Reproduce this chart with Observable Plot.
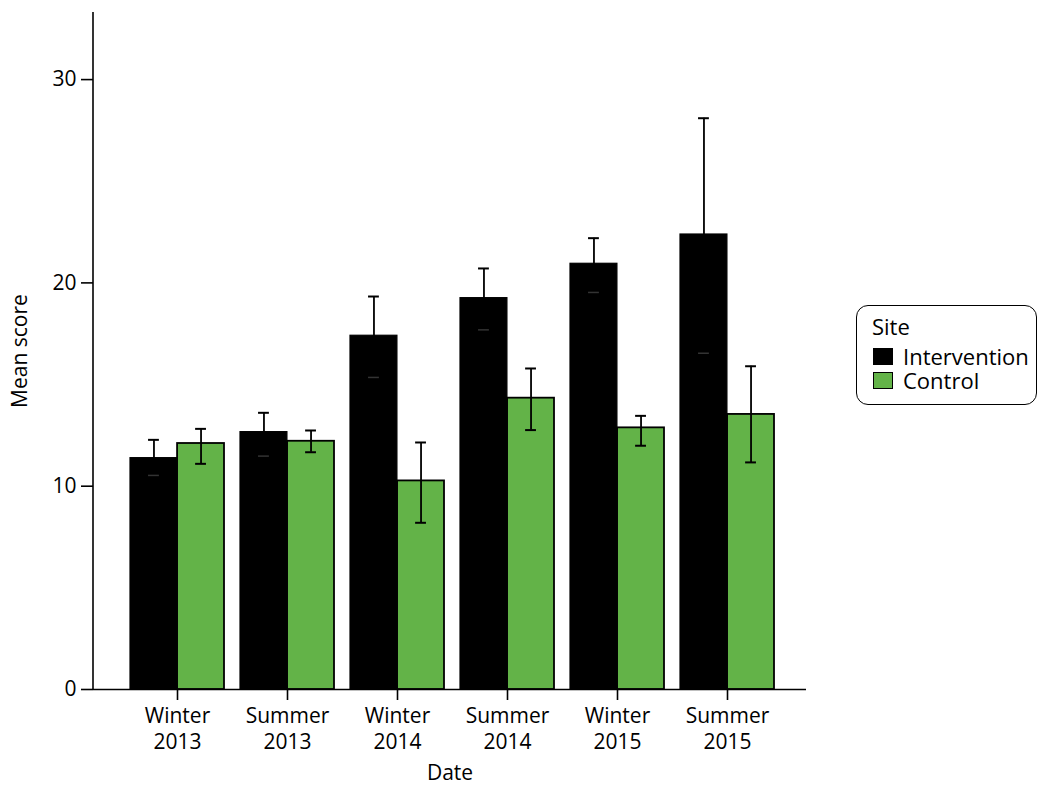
<!DOCTYPE html>
<html><head><meta charset="utf-8">
<script src="https://cdn.jsdelivr.net/npm/d3@7"></script>
<script src="https://cdn.jsdelivr.net/npm/@observablehq/plot@0.6"></script>
<style>
body{margin:0;background:#fff;font-family:"Open Sans",sans-serif;color:#000;}
#wrap{position:relative;width:1038px;height:787px;overflow:hidden;}
#legend{position:absolute;left:856px;top:305px;width:181px;height:100px;border:1.5px solid #000;border-radius:12px;box-sizing:border-box;font-size:22px;}
#legend .title{position:absolute;left:15px;top:9px;height:22px;line-height:22px;display:block;}
#legend .row{position:absolute;left:16px;height:22px;display:flex;align-items:center;white-space:nowrap;}
#legend .sw{width:20px;height:17px;border:1.5px solid #000;box-sizing:border-box;margin-right:10px;flex:none;}
#legend .lbl{display:block;height:22px;line-height:22px;}
</style></head><body>
<div id="wrap"><div id="chart"></div><div id="legend"></div></div>
<script>
const dates = ["Winter 2013","Summer 2013","Winter 2014","Summer 2014","Winter 2015","Summer 2015"];
const sites = ["Intervention","Control"];
const siteColors = ["#000000","#63b348"];
const interventionMean = [11.38,12.66,17.40,19.25,20.94,22.38];
const interventionLow  = [10.53,11.48,15.35,17.69,19.53,16.54];
const interventionHigh = [12.28,13.61,19.33,20.71,22.20,28.10];
const controlMean = [12.10,12.21,10.26,14.33,12.87,13.53];
const controlLow  = [11.10,11.67,8.20,12.76,11.99,11.17];
const controlHigh = [12.82,12.74,12.15,15.79,13.46,15.90];
const yTicks = [0,10,20,30];
const xTitle = "Date";
const yTitle = "Mean score";
const legendTitle = "Site";

const rowsInt = dates.map((d,i)=>({date:d, site:sites[0], mean:interventionMean[i], low:interventionLow[i], high:interventionHigh[i]}));
const rowsCtl = dates.map((d,i)=>({date:d, site:sites[1], mean:controlMean[i], low:controlLow[i], high:controlHigh[i]}));

const W = 1038, H = 787;
const mL = 93, mR = 232, mT = 12, mB = 98;
const xRange = [128, 776];
const padIn = 0.15;
const bw = (xRange[1]-xRange[0])/(dates.length - padIn)*(1-padIn);
const half = bw/2;
const capW = 11;
const cI = half/2, cC = half + half/2;

const yAxisLine = (index, scales, values, dims) => {
  const ns = "http://www.w3.org/2000/svg";
  const l = document.createElementNS(ns, "line");
  l.setAttribute("x1", dims.marginLeft); l.setAttribute("x2", dims.marginLeft);
  l.setAttribute("y1", scales.y(0)); l.setAttribute("y2", dims.marginTop);
  l.setAttribute("stroke", "#000"); l.setAttribute("stroke-width", 1.6);
  return l;
};

const chart = Plot.plot({
  width: W, height: H,
  marginLeft: mL, marginRight: mR, marginTop: mT, marginBottom: mB,
  style: {fontFamily: '"Open Sans", sans-serif', fontSize: "21px", color: "#000", background: "#fff"},
  x: {domain: dates, range: xRange, paddingInner: padIn, paddingOuter: 0, axis: null},
  y: {domain: [0, 33.3], axis: null},
  color: {domain: sites, range: siteColors},
  marks: [
    Plot.barY(rowsInt, {x: "date", y: "mean", fill: "site", stroke: "#000", strokeWidth: 1.2, insetRight: half}),
    Plot.barY(rowsCtl, {x: "date", y: "mean", fill: "site", stroke: "#000", strokeWidth: 1.8, insetLeft: half}),
    Plot.ruleX(rowsInt, {x: "date", y1: "low", y2: "high", dx: cI - half, stroke: "#000", strokeWidth: 1.8}),
    Plot.ruleX(rowsCtl, {x: "date", y1: "low", y2: "high", dx: cC - half, stroke: "#000", strokeWidth: 1.8}),
    Plot.tickY(rowsInt, {x: "date", y: "high", insetLeft: cI - capW/2, insetRight: bw - cI - capW/2, stroke: "#000", strokeWidth: 2}),
    Plot.tickY(rowsInt, {x: "date", y: "low", insetLeft: cI - capW/2, insetRight: bw - cI - capW/2, stroke: "#333", strokeWidth: 1.5}),
    Plot.tickY(rowsCtl, {x: "date", y: "high", insetLeft: cC - capW/2, insetRight: bw - cC - capW/2, stroke: "#000", strokeWidth: 2}),
    Plot.tickY(rowsCtl, {x: "date", y: "low", insetLeft: cC - capW/2, insetRight: bw - cC - capW/2, stroke: "#000", strokeWidth: 2}),
    Plot.ruleY([0], {stroke: "#000", strokeWidth: 1.6}),
    yAxisLine,
    Plot.axisY({ticks: yTicks, tickSize: 12, tickPadding: 5, fontSize: 21, label: null, tickFormat: d => String(d), strokeWidth: 1.6}),
    Plot.axisX({tickSize: 11, tickPadding: 4, fontSize: 21, lineHeight: 1.24, label: null, tickFormat: d => d.replace(" ", "\n"), strokeWidth: 1.6}),
    Plot.text([xTitle], {frameAnchor: "bottom", dy: 84, lineAnchor: "middle", textAnchor: "middle", fontSize: 21, text: d => d}),
    Plot.text([yTitle], {frameAnchor: "left", dx: -73, rotate: -90, textAnchor: "middle", lineAnchor: "middle", fontSize: 21, text: d => d})
  ]
});
document.getElementById("chart").appendChild(chart);

const lg = document.getElementById("legend");
const t = document.createElement("div"); t.className = "title"; t.textContent = legendTitle; lg.appendChild(t);
sites.forEach((s, i) => {
  const r = document.createElement("div"); r.className = "row"; r.style.top = (39 + i*24) + "px";
  const sw = document.createElement("div"); sw.className = "sw"; sw.style.background = siteColors[i];
  const tx = document.createElement("div"); tx.className = "lbl"; tx.textContent = s;
  r.appendChild(sw); r.appendChild(tx); lg.appendChild(r);
});
</script>
</body></html>
